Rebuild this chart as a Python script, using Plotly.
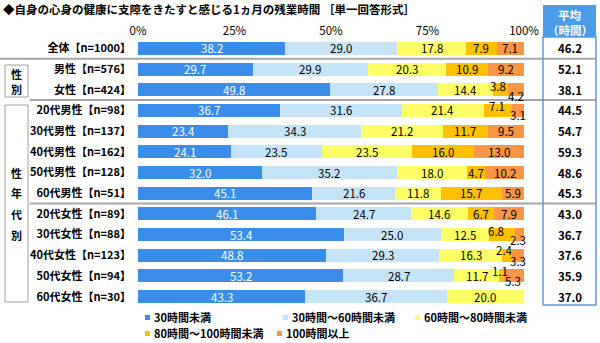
import plotly.graph_objects as go

# ---------------- data ----------------
categories = ["全体【n=1000】", "男性【n=576】", "女性【n=424】",
              "20代男性【n=98】", "30代男性【n=137】", "40代男性【n=162】",
              "50代男性【n=128】", "60代男性【n=51】",
              "20代女性【n=89】", "30代女性【n=88】", "40代女性【n=123】",
              "50代女性【n=94】", "60代女性【n=30】"]
series_names = ["30時間未満", "30時間～60時間未満", "60時間～80時間未満",
                "80時間～100時間未満", "100時間以上"]
under30 = [38.2, 29.7, 49.8, 36.7, 23.4, 24.1, 32.0, 45.1, 46.1, 53.4, 48.8, 53.2, 43.3]
h30_60 = [29.0, 29.9, 27.8, 31.6, 34.3, 23.5, 35.2, 21.6, 24.7, 25.0, 29.3, 28.7, 36.7]
h60_80 = [17.8, 20.3, 14.4, 21.4, 21.2, 23.5, 18.0, 11.8, 14.6, 12.5, 16.3, 11.7, 20.0]
h80_100 = [7.9, 10.9, 3.8, 7.1, 11.7, 16.0, 4.7, 15.7, 6.7, 6.8, 2.4, 1.1, 0.0]
over100 = [7.1, 9.2, 4.2, 3.1, 9.5, 13.0, 10.2, 5.9, 7.9, 2.3, 3.3, 5.3, 0.0]
averages = [46.2, 52.1, 38.1, 44.5, 54.7, 59.3, 48.6, 45.3, 43.0, 36.7, 37.6, 35.9, 37.0]
x_ticks = [0, 25, 50, 75, 100]
x_ticktext = ["0%", "25%", "50%", "75%", "100%"]
title_text = "◆自身の心身の健康に支障をきたすと感じる1ヵ月の残業時間 ［単一回答形式］"
avg_header = ["平均", "（時間）"]

# ---------------- style ----------------
colors = ["#3A8EEA", "#C6E4F8", "#FFFF66", "#FFC000", "#F79646"]
text_colors = ["white", "black", "black", "black", "black"]
FONT = "Noto Sans CJK JP"
W, H = 600, 343
L, R, T, B = 138, 76, 38, 36
# label offsets (row, series) -> (xshift, yshift) for small segments
label_offsets = {
    (2, 3): (-2, 4), (2, 4): (0, -6),
    (3, 3): (-1, 4), (3, 4): (0, -5),
    (9, 3): (-6, 4), (9, 4): (-2, -5),
    (10, 3): (-3, 5), (10, 4): (0, -6),
    (11, 3): (-1, 5), (11, 4): (-1, -5),
}


def px(xp):
    return (xp - L) / (W - L - R)


def py(yp):
    return (H - B - yp) / (H - T - B)


series = [under30, h30_60, h60_80, h80_100, over100]

fig = go.Figure()
for name, vals, c in zip(series_names, series, colors):
    fig.add_trace(go.Bar(y=categories, x=vals, name=name, orientation="h",
                         marker=dict(color=c, line=dict(width=0)),
                         showlegend=False, hoverinfo="x+name"))

annotations = []


def ann(**kw):
    kw.setdefault("showarrow", False)
    kw.setdefault("xanchor", "center")
    kw.setdefault("yanchor", "middle")
    annotations.append(kw)


# segment labels
for i, cat in enumerate(categories):
    cum = 0.0
    for s, vals in enumerate(series):
        v = vals[i]
        if v > 0:
            xs, ys = label_offsets.get((i, s), (0, 0))
            ann(x=cum + v / 2, y=cat, xref="x", yref="y", text=f"{v:.1f}",
                xshift=xs, yshift=ys,
                font=dict(family=FONT, size=11.5, color=text_colors[s]))
        cum += v
    # averages
    ann(x=px(569.5), y=cat, xref="paper", yref="y", text=f"{averages[i]:.1f}",
        font=dict(family=FONT, size=11.5, color="black", weight="bold"))

# title
ann(x=px(1), y=py(9), xref="paper", yref="paper", xanchor="left", text=title_text,
    font=dict(family=FONT, size=11.5, color="black", weight="bold"))
# average header
ann(x=px(569.5), y=py(15), xref="paper", yref="paper", text=avg_header[0],
    font=dict(family=FONT, size=11.5, color="white", weight="bold"))
ann(x=px(569.5), y=py(30), xref="paper", yref="paper", text=avg_header[1],
    font=dict(family=FONT, size=11.5, color="white", weight="bold"))
# group labels
ann(x=px(16.5), y=py(74), xref="paper", yref="paper", text="性",
    font=dict(family=FONT, size=11, color="black", weight="bold"))
ann(x=px(16.5), y=py(88.5), xref="paper", yref="paper", text="別",
    font=dict(family=FONT, size=11, color="black", weight="bold"))
for ch, cat in zip("性年代別", categories[6:10]):
    ann(x=px(16.5), y=cat, xref="paper", yref="y", text=ch,
        font=dict(family=FONT, size=11, color="black", weight="bold"))

shapes = []
# separators
for yv, x0 in [(0.5, 0), (2.5, 30), (7.5, 30)]:
    shapes.append(dict(type="line", xref="paper", yref="y", x0=px(x0), x1=px(596),
                       y0=yv, y1=yv, line=dict(color="#A6A6A6", width=2)))
# left group boxes
shapes.append(dict(type="rect", xref="paper", yref="paper", x0=px(5), x1=px(28),
                   y0=py(97), y1=py(65), line=dict(color="#A0A0A0", width=1)))
shapes.append(dict(type="rect", xref="paper", yref="paper", x0=px(5), x1=px(28),
                   y0=py(302), y1=py(105), line=dict(color="#A0A0A0", width=1)))
# average column
shapes.append(dict(type="rect", xref="paper", yref="paper", x0=px(543), x1=px(596),
                   y0=py(305), y1=py(37), line=dict(color="#5B9BD5", width=1.5)))
shapes.append(dict(type="rect", xref="paper", yref="paper", x0=px(543), x1=px(596),
                   y0=py(37), y1=py(5), line=dict(width=0), fillcolor="#4A9BE8"))

# legend (drawn)
legend_pos = [(145, 317), (283, 317), (415, 317), (145, 333), (277, 333)]
for (lx, ly), name, c in zip(legend_pos, series_names, colors):
    shapes.append(dict(type="rect", xref="paper", yref="paper",
                       x0=px(lx), x1=px(lx + 5), y0=py(ly + 3), y1=py(ly - 2),
                       line=dict(width=0), fillcolor=c))
    ann(x=px(lx + 7), y=py(ly), xref="paper", yref="paper", xanchor="left", text=name,
        font=dict(family=FONT, size=11, color="black", weight="bold"))

fig.update_layout(
    barmode="stack", bargap=0.37,
    width=W, height=H,
    margin=dict(l=L, r=R, t=T, b=B),
    paper_bgcolor="white", plot_bgcolor="white",
    font=dict(family=FONT, size=11, color="black"),
    xaxis=dict(side="top", range=[0, 100], tickvals=x_ticks, ticktext=x_ticktext,
               showgrid=False, zeroline=False, showline=False, ticks="",
               tickfont=dict(family=FONT, size=11.5, color="black")),
    yaxis=dict(type="category", autorange="reversed", showgrid=False, zeroline=False,
               showline=False, ticks="", ticklabelstandoff=6,
               tickfont=dict(family=FONT, size=11, color="black", weight="bold")),
    annotations=annotations, shapes=shapes,
)

fig.write_html("out.html")
